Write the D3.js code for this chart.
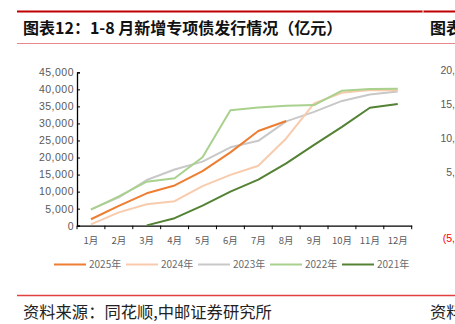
<!DOCTYPE html>
<html><head><meta charset="utf-8">
<script src="https://cdn.jsdelivr.net/npm/d3@7"></script>
<style>
html,body{margin:0;padding:0;background:#fff;overflow:hidden}
svg{display:block}
</style></head><body>
<svg id="c" width="455" height="324"></svg>
<script>
const months = ["1月","2月","3月","4月","5月","6月","7月","8月","9月","10月","11月","12月"];
const yTicks = [0,5000,10000,15000,20000,25000,30000,35000,40000,45000];
const seriesNames = ["2025年","2024年","2023年","2022年","2021年"];
const colors = ["#ED7D31","#F8CBAD","#C8C8C8","#A9D18E","#548235"];
const v2025 = [1900,5800,9500,11800,16000,21500,27800,30700,null,null,null,null];
const v2024 = [400,3900,6300,7200,11600,14900,17600,25600,35900,39000,39800,39700];
const v2023 = [4800,8300,13400,16500,18800,23000,24900,30600,33400,36600,38500,39400];
const v2022 = [4700,8600,12900,13900,20100,33900,34700,35200,35400,39600,40100,40200];
const v2021 = [null,null,100,2200,5900,10000,13500,18300,23700,29000,34600,35700];
const allSeries = [v2025,v2024,v2023,v2022,v2021];
const rightTicks = ["20,","15,","10,","5,"];

const svg = d3.select("#c");
const font = "'Noto Sans CJK SC','Noto Sans',sans-serif";

// header lines
svg.append("line").attr("x1",17).attr("x2",455).attr("y1",11.5).attr("y2",11.5).attr("stroke","#C00000").attr("stroke-width",2.2);
svg.append("line").attr("x1",422.5).attr("x2",423.5).attr("y1",11.5).attr("y2",11.5).attr("stroke","#fff").attr("stroke-width",2.4);
svg.append("line").attr("x1",17).attr("x2",455).attr("y1",43.5).attr("y2",43.5).attr("stroke","#E8888A").attr("stroke-width",1.2);
svg.append("text").attr("x",23).attr("y",34).attr("font-family",font).attr("font-weight","bold").attr("font-size",16).attr("fill","#111")
  .text("图表12：1-8 月新增专项债发行情况（亿元）");
svg.append("text").attr("x",430).attr("y",34).attr("font-family",font).attr("font-weight","bold").attr("font-size",16).attr("fill","#111")
  .text("图表");

// footer
svg.append("line").attr("x1",17).attr("x2",455).attr("y1",295.5).attr("y2",295.5).attr("stroke","#E04040").attr("stroke-width",1.3);
svg.append("text").attr("x",23).attr("y",317.5).attr("font-family",font).attr("font-size",16.3).attr("fill","#222")
  .text("资料来源：同花顺,中邮证券研究所");
svg.append("text").attr("x",430).attr("y",317.5).attr("font-family",font).attr("font-size",16.3).attr("fill","#222")
  .text("资料");

// chart
const x = d3.scaleBand().domain(months).range([77,411.7]);
const y = d3.scaleLinear().domain([0,45000]).range([225.7,72.3]);

const gy = svg.append("g").attr("transform","translate(77,0)")
  .call(d3.axisLeft(y).tickValues(yTicks).tickSize(-3).tickPadding(3).tickFormat(d3.format(",")));
gy.select(".domain").attr("stroke","#000").attr("stroke-width",1.3);
gy.selectAll(".tick line").attr("stroke","#000");
gy.selectAll("text").attr("font-family","'Liberation Sans',Arial,sans-serif").attr("font-size",10.5).attr("letter-spacing",0.5).attr("fill","#595959");

const gx = svg.append("g").attr("transform","translate(0,225.7)")
  .call(d3.axisBottom(x).tickSize(0).tickPadding(12));
gx.select(".domain").attr("stroke","#000").attr("stroke-width",1.3);
gx.selectAll("text").attr("font-family",font).attr("font-size",9.5).attr("fill","#595959");
// category boundary ticks
const bounds = months.map(m => x(m)).concat([x.range()[1]]);
gx.selectAll(".bt").data(bounds).enter().append("line")
  .attr("x1",d=>d).attr("x2",d=>d).attr("y1",0).attr("y2",3.5).attr("stroke","#000").attr("stroke-width",1);

const line = d3.line().defined(d=>d.v!=null).x(d=>x(d.m)+x.bandwidth()/2).y(d=>y(d.v));
// draw order: 2023, 2024, 2022, 2025, 2021
[2,1,3,0,4].forEach(i=>{
  const data = months.map((m,j)=>({m:m,v:allSeries[i][j]}));
  svg.append("path").datum(data).attr("d",line).attr("fill","none")
    .attr("stroke",colors[i]).attr("stroke-width",2).attr("stroke-linejoin","round");
});

// legend
const legX = [54,126,198,270,342];
seriesNames.forEach((n,i)=>{
  const g = svg.append("g").attr("transform",`translate(${legX[i]},264.5)`);
  g.append("line").attr("x1",0).attr("x2",32).attr("stroke",colors[i]).attr("stroke-width",2);
  g.append("text").attr("x",35).attr("y",3.5).attr("font-family",font).attr("font-size",10).attr("fill","#6b6b6b").text(n);
});

// neighbouring chart fragment on the right
const ry = d3.scaleLinear().domain([0,3]).range([70.5,172.5]);
rightTicks.forEach((t,i)=>{
  svg.append("text").attr("x",455).attr("y",ry(i)+3.5).attr("text-anchor","end")
    .attr("font-family","'Liberation Sans',Arial,sans-serif").attr("font-size",10.5).attr("fill","#595959").text(t);
});
svg.append("text").attr("x",455).attr("y",242).attr("text-anchor","end")
  .attr("font-family","'Liberation Sans',Arial,sans-serif").attr("font-size",10.5).attr("fill","#FF0000").text("(5,");
</script>
</body></html>
